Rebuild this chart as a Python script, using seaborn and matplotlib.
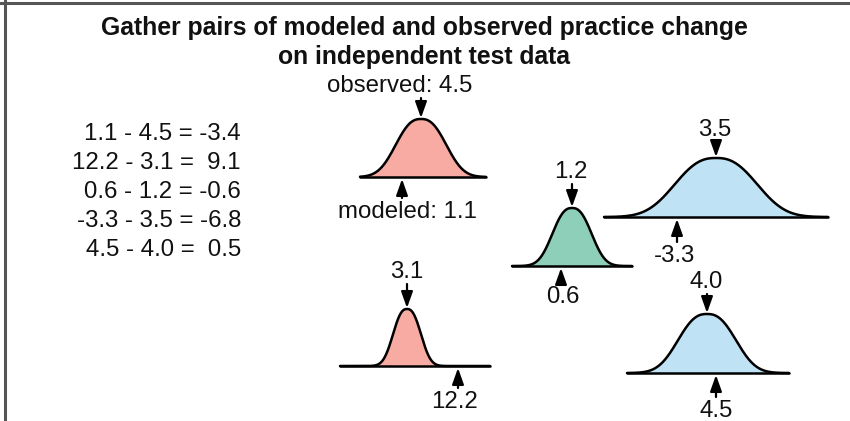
import numpy as np
import matplotlib.pyplot as plt
import seaborn as sns

sns.set_theme(style="white")
plt.rcParams["font.family"] = ["Liberation Sans", "DejaVu Sans"]

# values shown in the diagram
observed = [4.5, 3.1, 1.2, 3.5, 4.0]
modeled = [1.1, 12.2, 0.6, -3.3, 4.5]
title_lines = ["Gather pairs of modeled and observed practice change",
               "on independent test data"]

# layout of the five bells (pixels): centre, baseline, height, half width, line span
bell_cx = [421, 407, 572, 716, 707]
bell_base = [177, 366, 266, 217, 373]
bell_h = [58, 57, 58, 59, 59]
bell_w = [27, 15, 21, 44, 31]
bell_span = [(360, 486), (340, 490), (512, 632), (604, 828), (627, 789)]
bell_color = ["#f8aba2", "#f8aba2", "#8ecfba", "#bfe2f5", "#bfe2f5"]
obs_label_xy = [(400, 86), (407, 272), (571, 172), (715, 130), (706, 282)]
mod_arrow_x = [402, 458, 561, 677, 716]
mod_label_xy = [(407, 212), (455, 402), (563, 297), (675, 256), (716, 411)]

fig = plt.figure(figsize=(8.5, 4.21), dpi=100)
ax = fig.add_axes([0, 0, 1, 1])
ax.set_xlim(0, 850)
ax.set_ylim(421, 0)
ax.axis("off")

# frame lines (top and left)
ax.plot([0, 850], [3, 3], color="#555555", lw=2.2)
ax.plot([5, 5], [0, 421], color="#555555", lw=2.2)

# title
ax.text(424, 28, title_lines[0], ha="center", va="center", fontsize=17.8, fontweight="bold", color="#111111")
ax.text(424, 57, title_lines[1], ha="center", va="center", fontsize=17.8, fontweight="bold", color="#111111")

# equations modeled - observed
for i, (m, o) in enumerate(zip(modeled, observed)):
    d = m - o
    ax.text(241, 134 + 29 * i, f"{m:.1f} - {o:.1f} = {d:4.1f}", ha="right", va="center",
            fontsize=17.3, color="#111111")

arrow = dict(arrowstyle="-|>,head_length=0.7,head_width=0.25", color="black", lw=1.6,
             mutation_scale=14, shrinkA=0, shrinkB=0)

for i in range(5):
    x0, x1 = bell_span[i]
    xs = np.linspace(x0, x1, 300)
    ys = bell_base[i] - bell_h[i] * np.exp(-np.log(2) * (np.abs(xs - bell_cx[i]) / bell_w[i]) ** 2.5)
    ax.fill_between(xs, ys, bell_base[i], color=bell_color[i], lw=0)
    sns.lineplot(x=xs, y=ys, ax=ax, color="black", lw=1.8, sort=False)
    ax.plot([x0, x1], [bell_base[i], bell_base[i]], color="black", lw=1.8)

    # observed arrow and label
    lx, ly = obs_label_xy[i]
    txt = f"observed: {observed[i]}" if i == 0 else f"{observed[i]}"
    ax.text(lx, ly, txt, ha="center", va="center", fontsize=17.3, color="#111111")
    peak = bell_base[i] - bell_h[i]
    ax.annotate("", xy=(bell_cx[i], peak - 1), xytext=(bell_cx[i], ly + 12), arrowprops=arrow)

    # modeled arrow and label
    mx, my = mod_label_xy[i]
    txt = f"modeled: {modeled[i]}" if i == 0 else f"{modeled[i]}"
    ax.text(mx, my, txt, ha="center", va="center", fontsize=17.3, color="#111111")
    ax.annotate("", xy=(mod_arrow_x[i], bell_base[i] + 2), xytext=(mod_arrow_x[i], my - 14),
                arrowprops=arrow)

fig.savefig("out.png", dpi=100)
